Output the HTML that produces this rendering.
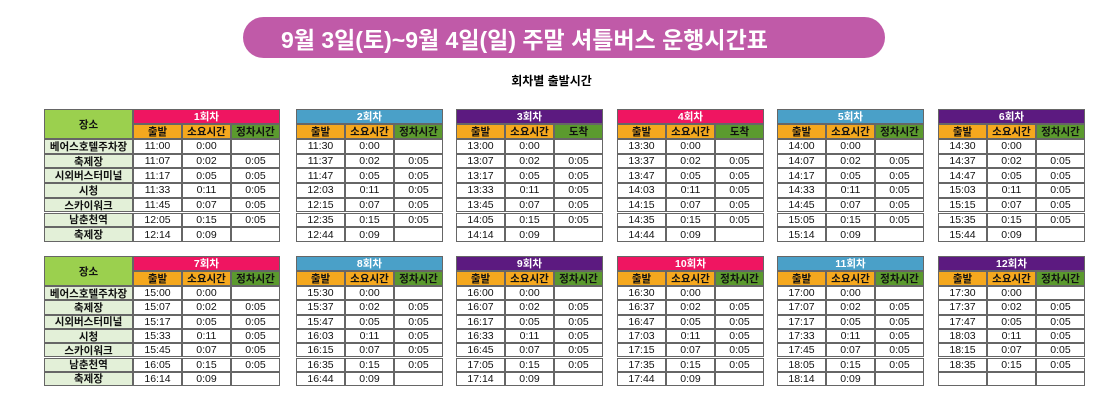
<!DOCTYPE html>
<html><head><meta charset="utf-8"><style>
body{margin:0;width:1103px;height:406px;background:#fff;position:relative;overflow:hidden;font-family:"Liberation Sans","Noto Sans CJK KR",sans-serif;}
.c{position:absolute;box-sizing:border-box;display:flex;align-items:center;justify-content:center;font-size:10.5px;color:#111;border:0.5px solid #666;white-space:nowrap;}
.h{font-weight:bold;}
#title{position:absolute;left:243px;top:17px;width:642px;height:41px;border-radius:21px;background:#c05aa8;color:#fff;font-size:23px;font-weight:bold;display:flex;align-items:center;padding-left:38px;box-sizing:border-box;}
#sub{position:absolute;left:0;width:1103px;top:72px;text-align:center;font-size:12px;font-weight:bold;}
</style></head><body>
<div id="title">9월 3일(토)~9월 4일(일) 주말 셔틀버스 운행시간표</div>
<div id="sub">회차별 출발시간</div>
<script>
const places=["베어스호텔주차장","축제장","시외버스터미널","시청","스카이워크","남춘천역","축제장"];
const starts=["11:00","11:30","13:00","13:30","14:00","14:30","15:00","15:30","16:00","16:30","17:00","17:30"];
const offsets=[0,7,17,33,45,65,74];
const durations=["0:00","0:02","0:05","0:11","0:07","0:15","0:09"];
const stops=["","0:05","0:05","0:05","0:05","0:05",""];
const blockX=[133,296,456,617,777,938];
const headColors=["#ef1561","#4aa0c8","#5c1a80"];
function add(x,y,w,h,txt,bg,cls,color,name){
  const d=document.createElement('div');
  d.className='c '+(cls||'');
  d.style.left=x+'px';d.style.top=y+'px';d.style.width=w+'px';d.style.height=h+'px';
  if(bg)d.style.background=bg; if(color)d.style.color=color;
  d.textContent=txt;
  
  
  document.body.appendChild(d);
}
function fmt(s,off){const [h,m]=s.split(':').map(Number);const t=h*60+m+off;return Math.floor(t/60)+':'+String(t%60).padStart(2,'0');}
const bands=[{y:109,rh:14.7},{y:256,rh:14.3}];
bands.forEach((b,bi)=>{
  add(44,b.y,89,30,'장소','#9bd04e','h',null,'place-header');
  places.forEach((p,i)=>add(44,b.y+30+i*b.rh,89,b.rh,p,'#e3f0d8','h',null,'place-cell'));
  for(let k=0;k<6;k++){
    const n=bi*6+k, x=blockX[k];
    add(x,b.y,147,15,(n+1)+'회차',headColors[k%3],'h','#fff','run-header');
    const third=(n===2||n===3)?'도착':'정차시간';
    add(x,b.y+15,49,15,'출발','#f5a81e','h',null,'depart-header');
    add(x+49,b.y+15,49,15,'소요시간','#f5a81e','h',null,'duration-header');
    add(x+98,b.y+15,49,15,third,'#5b9a2e','h',null,'stop-header');
    for(let i=0;i<7;i++){
      const last=(n===11&&i===6);
      const y=b.y+30+i*b.rh;
      add(x,y,49,b.rh,last?'':fmt(starts[n],offsets[i]),'#fff','',null,'depart-time');
      add(x+49,y,49,b.rh,last?'':durations[i],'#fff','',null,'duration-cell');
      add(x+98,y,49,b.rh,last?'':stops[i],'#fff','',null,'stop-cell');
    }
  }
});
</script>
</body></html>
